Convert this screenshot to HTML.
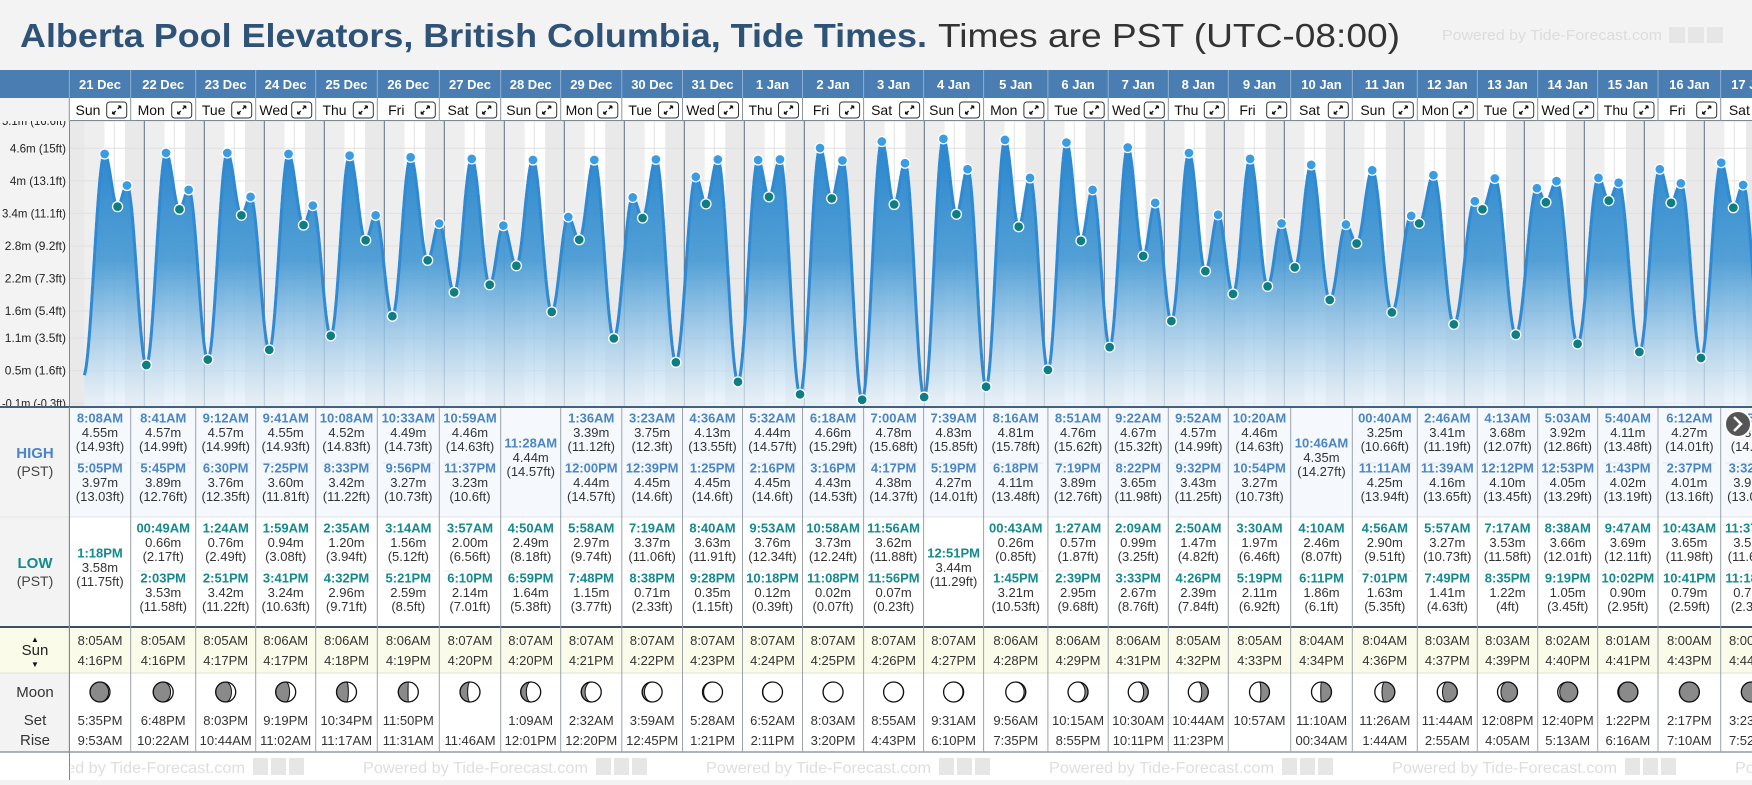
<!DOCTYPE html>
<html><head><meta charset="utf-8">
<style>
html,body{margin:0;padding:0;background:#f3f3f3;}
body{width:1752px;height:780px;overflow:hidden;font-family:"Liberation Sans",sans-serif;}
svg text{font-family:"Liberation Sans",sans-serif;}
</style></head>
<body>
<svg id="root" width="1752" height="780" viewBox="0 0 1752 780" xmlns="http://www.w3.org/2000/svg">
<defs>
<linearGradient id="fillGrad" gradientUnits="userSpaceOnUse" x1="0" y1="140" x2="0" y2="407">
<stop offset="0" stop-color="#2a86cc"/>
<stop offset="0.45" stop-color="#4a9bd4" stop-opacity="0.95"/>
<stop offset="1" stop-color="#e8f2fa" stop-opacity="0.7"/>
</linearGradient>
<clipPath id="chartClip"><rect x="70" y="121" width="1682" height="286"/></clipPath>
<clipPath id="footClip"><rect x="71" y="752" width="1681" height="28"/></clipPath>
</defs>
<g id="layer"></g>
</svg>
<script>
const days=['21 Dec','22 Dec','23 Dec','24 Dec','25 Dec','26 Dec','27 Dec','28 Dec','29 Dec','30 Dec','31 Dec','1 Jan','2 Jan','3 Jan','4 Jan','5 Jan','6 Jan','7 Jan','8 Jan','9 Jan','10 Jan','11 Jan','12 Jan','13 Jan','14 Jan','15 Jan','16 Jan','17 Jan'];
const weekdays=['Sun','Mon','Tue','Wed','Thu','Fri','Sat','Sun','Mon','Tue','Wed','Thu','Fri','Sat','Sun','Mon','Tue','Wed','Thu','Fri','Sat','Sun','Mon','Tue','Wed','Thu','Fri','Sat'];
const highTimes=[['8:08AM','5:05PM'],['8:41AM','5:45PM'],['9:12AM','6:30PM'],['9:41AM','7:25PM'],['10:08AM','8:33PM'],['10:33AM','9:56PM'],['10:59AM','11:37PM'],['11:28AM'],['1:36AM','12:00PM'],['3:23AM','12:39PM'],['4:36AM','1:25PM'],['5:32AM','2:16PM'],['6:18AM','3:16PM'],['7:00AM','4:17PM'],['7:39AM','5:19PM'],['8:16AM','6:18PM'],['8:51AM','7:19PM'],['9:22AM','8:22PM'],['9:52AM','9:32PM'],['10:20AM','10:54PM'],['10:46AM'],['00:40AM','11:11AM'],['2:46AM','11:39AM'],['4:13AM','12:12PM'],['5:03AM','12:53PM'],['5:40AM','1:43PM'],['6:12AM','2:37PM'],['6:45AM','3:32PM']];
const highM=[[4.55,3.97],[4.57,3.89],[4.57,3.76],[4.55,3.60],[4.52,3.42],[4.49,3.27],[4.46,3.23],[4.44],[3.39,4.44],[3.75,4.45],[4.13,4.45],[4.44,4.45],[4.66,4.43],[4.78,4.38],[4.83,4.27],[4.81,4.11],[4.76,3.89],[4.67,3.65],[4.57,3.43],[4.46,3.27],[4.35],[3.25,4.25],[3.41,4.16],[3.68,4.10],[3.92,4.05],[4.11,4.02],[4.27,4.01],[4.39,3.98]];
const highFt=[[14.93,13.03],[14.99,12.76],[14.99,12.35],[14.93,11.81],[14.83,11.22],[14.73,10.73],[14.63,10.6],[14.57],[11.12,14.57],[12.3,14.6],[13.55,14.6],[14.57,14.6],[15.29,14.53],[15.68,14.37],[15.85,14.01],[15.78,13.48],[15.62,12.76],[15.32,11.98],[14.99,11.25],[14.63,10.73],[14.27],[10.66,13.94],[11.19,13.65],[12.07,13.45],[12.86,13.29],[13.48,13.19],[14.01,13.16],[14.4,13.06]];
const lowTimes=[['1:18PM'],['00:49AM','2:03PM'],['1:24AM','2:51PM'],['1:59AM','3:41PM'],['2:35AM','4:32PM'],['3:14AM','5:21PM'],['3:57AM','6:10PM'],['4:50AM','6:59PM'],['5:58AM','7:48PM'],['7:19AM','8:38PM'],['8:40AM','9:28PM'],['9:53AM','10:18PM'],['10:58AM','11:08PM'],['11:56AM','11:56PM'],['12:51PM'],['00:43AM','1:45PM'],['1:27AM','2:39PM'],['2:09AM','3:33PM'],['2:50AM','4:26PM'],['3:30AM','5:19PM'],['4:10AM','6:11PM'],['4:56AM','7:01PM'],['5:57AM','7:49PM'],['7:17AM','8:35PM'],['8:38AM','9:19PM'],['9:47AM','10:02PM'],['10:43AM','10:41PM'],['11:37AM','11:18PM']];
const lowM=[[3.58],[0.66,3.53],[0.76,3.42],[0.94,3.24],[1.20,2.96],[1.56,2.59],[2.00,2.14],[2.49,1.64],[2.97,1.15],[3.37,0.71],[3.63,0.35],[3.76,0.12],[3.73,0.02],[3.62,0.07],[3.44],[0.26,3.21],[0.57,2.95],[0.99,2.67],[1.47,2.39],[1.97,2.11],[2.46,1.86],[2.90,1.63],[3.27,1.41],[3.53,1.22],[3.66,1.05],[3.69,0.90],[3.65,0.79],[3.56,0.71]];
const lowFt=[[11.75],[2.17,11.58],[2.49,11.22],[3.08,10.63],[3.94,9.71],[5.12,8.5],[6.56,7.01],[8.18,5.38],[9.74,3.77],[11.06,2.33],[11.91,1.15],[12.34,0.39],[12.24,0.07],[11.88,0.23],[11.29],[0.85,10.53],[1.87,9.68],[3.25,8.76],[4.82,7.84],[6.46,6.92],[8.07,6.1],[9.51,5.35],[10.73,4.63],[11.58,4],[12.01,3.45],[12.11,2.95],[11.98,2.59],[11.68,2.33]];
const sunrise=['8:05AM','8:05AM','8:05AM','8:06AM','8:06AM','8:06AM','8:07AM','8:07AM','8:07AM','8:07AM','8:07AM','8:07AM','8:07AM','8:07AM','8:07AM','8:06AM','8:06AM','8:06AM','8:05AM','8:05AM','8:04AM','8:04AM','8:03AM','8:03AM','8:02AM','8:01AM','8:00AM','8:00AM'];
const sunset=['4:16PM','4:16PM','4:17PM','4:17PM','4:18PM','4:19PM','4:20PM','4:20PM','4:21PM','4:22PM','4:23PM','4:24PM','4:25PM','4:26PM','4:27PM','4:28PM','4:29PM','4:31PM','4:32PM','4:33PM','4:34PM','4:36PM','4:37PM','4:39PM','4:40PM','4:41PM','4:43PM','4:44PM'];
const moonSet=['5:35PM','6:48PM','8:03PM','9:19PM','10:34PM','11:50PM','','1:09AM','2:32AM','3:59AM','5:28AM','6:52AM','8:03AM','8:55AM','9:31AM','9:56AM','10:15AM','10:30AM','10:44AM','10:57AM','11:10AM','11:26AM','11:44AM','12:08PM','12:40PM','1:22PM','2:17PM','3:23PM'];
const moonRise=['9:53AM','10:22AM','10:44AM','11:02AM','11:17AM','11:31AM','11:46AM','12:01PM','12:20PM','12:45PM','1:21PM','2:11PM','3:20PM','4:43PM','6:10PM','7:35PM','8:55PM','10:11PM','11:23PM','','00:34AM','1:44AM','2:55AM','4:05AM','5:13AM','6:16AM','7:10AM','7:52AM'];
const moonAge=[2.5,3.5,4.5,5.5,6.5,7.5,8.5,9.5,10.5,11.5,12.5,13.5,14.5,15.5,16.5,17.5,18.5,19.5,20.5,21.5,22.5,23.5,24.5,25.5,26.5,27.5,28.5,29.3];
const yTicksM=[5.1,4.6,4,3.4,2.8,2.2,1.6,1.1,0.5,-0.1];
const yTicksFt=['16.6ft','15ft','13.1ft','11.1ft','9.2ft','7.3ft','5.4ft','3.5ft','1.6ft','-0.3ft'];
const priorLow=[-0.4,0.45];
const nextHigh=[7.5,4.5];
const colEdges=[69.3,130.7,195.7,255.7,315.7,377.3,439.3,500.7,560.7,621.8,682.5,742.5,802.5,863.6,923.6,983.6,1047.9,1108.2,1168.3,1228.3,1290.7,1352.3,1417.3,1477.3,1537.7,1597.7,1658,1720.7,1782];

const NS='http://www.w3.org/2000/svg';
const layer=document.getElementById('layer');
function mk(tag,attrs,parent,txt){const e=document.createElementNS(NS,tag);for(const k in attrs)e.setAttribute(k,attrs[k]);if(txt!==undefined)e.textContent=txt;(parent||layer).appendChild(e);return e;}
function parseT(s){const m=s.match(/(\d+):(\d+)(AM|PM)/);let h=+m[1]%12;if(m[3]==='PM')h+=12;return h+(+m[2])/60;}
const xT=t=>84.3+t*2.5;
const yM=m=>154+(4.55-m)*54.25;

let g=mk('g',{});


let t=mk('text',{x:20,y:47,'font-size':33,'font-weight':'bold',fill:'#2f5377',textLength:907,lengthAdjust:'spacingAndGlyphs'},g,'Alberta Pool Elevators, British Columbia, Tide Times.');


t=mk('text',{x:938,y:47,'font-size':33,fill:'#333',textLength:462,lengthAdjust:'spacingAndGlyphs'},g,'Times are PST (UTC-08:00)');


t=mk('text',{x:1442,y:40,'font-size':15,fill:'#dcdcdc',textLength:220,lengthAdjust:'spacingAndGlyphs'},g,'Powered by Tide-Forecast.com');


mk('rect',{x:1669,y:27,width:16,height:16,fill:'#e6e6e6'},g);
mk('rect',{x:1688,y:27,width:16,height:16,fill:'#e6e6e6'},g);
mk('rect',{x:1707,y:27,width:16,height:16,fill:'#e6e6e6'},g);

let cg=mk('g',{'clip-path':'url(#chartClip)'});


mk('rect',{x:70,y:121,width:1682,height:286,fill:'#e9e9e9'},cg);
for(let d=0;d<days.length;d++){
  const sr=parseT(sunrise[d]),ss=parseT(sunset[d]);
  const r=mk('rect',{x:xT(d*24+sr),y:121,width:(ss-sr)*2.5,height:286,fill:'#ffffff'},cg);
  
  
  mk('rect',{x:xT(d*24),y:121,width:xT(d*24+sr)-xT(d*24),height:286,fill:'#eeeeee'},cg);
  mk('line',{x1:xT(d*24+12),x2:xT(d*24+12),y1:121,y2:407,stroke:'#e2e2e2','stroke-width':1},cg);
}
yTicksM.forEach(v=>{mk('line',{x1:70,x2:1752,y1:yM(v)-3,y2:yM(v)-3,stroke:'#e0e0e0','stroke-width':1},cg);});
for(let d=1;d<=days.length;d++){
  const l=mk('line',{x1:xT(d*24),x2:xT(d*24),y1:121,y2:407,stroke:'#5d6f82','stroke-width':1},cg);
  
  
}
const ext=[{t:priorLow[0],v:priorLow[1],k:'x'}];
for(let d=0;d<days.length;d++){
  highTimes[d].forEach((s,i)=>ext.push({t:d*24+parseT(s),v:highM[d][i],k:'h'}));
  lowTimes[d].forEach((s,i)=>ext.push({t:d*24+parseT(s),v:lowM[d][i],k:'l'}));
}
ext.sort((a,b)=>a.t-b.t);
const last=ext[ext.length-1];
ext.push({t:last.t+nextHigh[0],v:nextHigh[1],k:'x'});
function val(tt){for(let i=0;i<ext.length-1;i++){const a=ext[i],b=ext[i+1];if(tt>=a.t&&tt<=b.t){const f=(tt-a.t)/(b.t-a.t);return a.v+(b.v-a.v)*(1-Math.cos(Math.PI*f))/2;}}return ext[ext.length-1].v;}
let pts=[];
const tEnd=(1760-84.3)/2.5;
for(let tt=0;tt<=tEnd;tt+=0.1)pts.push([xT(tt),yM(val(tt))]);
const line='M'+pts.map(p=>p[0].toFixed(1)+','+p[1].toFixed(1)).join('L');
let area=mk('path',{d:line+'L'+pts[pts.length-1][0].toFixed(1)+',407L'+xT(0)+',407Z',fill:'url(#fillGrad)'},cg);


let lp=mk('path',{d:line,fill:'none',stroke:'#2f8ad3','stroke-width':3,'stroke-linejoin':'round'},cg);


ext.forEach(e=>{if(e.k==='x')return;
  const c=mk('circle',{cx:xT(e.t),cy:yM(e.v),r:5,fill:e.k==='h'?'#3a9de3':'#0e7d84',stroke:'#fff','stroke-width':1.3},cg);
  
  
});
mk('rect',{x:0,y:98,width:70,height:309,fill:'#f3f3f3'});
let ya=mk('g',{});


yTicksM.forEach((v,i)=>{
  const s=(v===4?'4':String(v))+'m ('+yTicksFt[i]+')';
  const tx=mk('text',{x:66,y:yM(v)+1,'font-size':12,fill:'#222','text-anchor':'end',textLength:Math.min(64,s.length*5.1),lengthAdjust:'spacingAndGlyphs'},ya,s);
  
  
});
mk('rect',{x:0,y:98,width:70,height:23,fill:'#f3f3f3'});
mk('line',{x1:69.5,x2:69.5,y1:121,y2:407,stroke:'#7d8a96','stroke-width':1});

let hg=mk('g',{});


mk('rect',{x:0,y:70,width:1752,height:28,fill:'#4a7db1'},hg);
mk('rect',{x:70,y:98,width:1682,height:23,fill:'#ffffff'},hg);
mk('line',{x1:70,x2:1752,y1:120.5,y2:120.5,stroke:'#7d8a96'},hg);
for(let d=0;d<days.length;d++){
  const x0=colEdges[d],x1=colEdges[d+1],cx=(x0+x1)/2;
  mk('line',{x1:x0,x2:x0,y1:70,y2:98,stroke:'#8fb0d0'},hg);
  mk('line',{x1:x0,x2:x0,y1:98,y2:121,stroke:'#8a96a2'},hg);
  const dt=mk('text',{x:cx,y:89,'font-size':13,'font-weight':'bold',fill:'#fff','text-anchor':'middle'},hg,days[d]);
  
  
  const wd=mk('text',{x:cx-12,y:115,'font-size':14,fill:'#111','text-anchor':'middle'},hg,weekdays[d]);
  
  
  const bx=x1-24;
  const eb=mk('g',{},hg);
  
  
  mk('rect',{x:bx,y:102,width:20,height:16,rx:3,fill:'#fff',stroke:'#333','stroke-width':1},eb);
  mk('path',{d:`M${bx+6},${114}L${bx+9},${111}M${bx+6},${114}h2.5M${bx+6},${114}v-2.5M${bx+14},${106}L${bx+11},${109}M${bx+14},${106}h-2.5M${bx+14},${106}v2.5`,stroke:'#111','stroke-width':1.3,fill:'none'},eb);
}

let tb=mk('g',{});


mk('rect',{x:0,y:407,width:70,height:345,fill:'#f3f3f3'},tb);
mk('rect',{x:70,y:407,width:1682,height:110,fill:'#f5f9fd'},tb);
mk('rect',{x:70,y:517,width:1682,height:110,fill:'#ffffff'},tb);
mk('rect',{x:0,y:627,width:1752,height:46,fill:'#fbfbea'},tb);
mk('rect',{x:70,y:673,width:1682,height:79,fill:'#ffffff'},tb);
mk('rect',{x:0,y:752,width:1752,height:28,fill:'#ffffff'},tb);
mk('rect',{x:0,y:673,width:70,height:79,fill:'#f3f3f3'},tb);
mk('line',{x1:0,x2:1752,y1:407,y2:407,stroke:'#3f6284','stroke-width':2},tb);
mk('line',{x1:0,x2:1752,y1:517,y2:517,stroke:'#e0e4e8','stroke-width':1},tb);
mk('line',{x1:0,x2:1752,y1:627,y2:627,stroke:'#3c4e60','stroke-width':2},tb);
mk('line',{x1:0,x2:1752,y1:673,y2:673,stroke:'#e2e2d6','stroke-width':1},tb);
mk('line',{x1:0,x2:1752,y1:752,y2:752,stroke:'#5a6a7a','stroke-width':1},tb);
function lbl(x,y,s,txt,fill,w,name){const e=mk('text',{x:x,y:y,'font-size':s,fill:fill,'font-weight':w,'text-anchor':'middle'},tb,txt);return e;}
lbl(35,458,15,'HIGH','#4a86c5','bold','high-label');
lbl(35,476,14,'(PST)','#444','normal','high-pst-label');
lbl(35,568,15,'LOW','#138a8f','bold','low-label');
lbl(35,586,14,'(PST)','#444','normal','low-pst-label');
lbl(35,655,15,'Sun','#222','normal','sun-label');
lbl(35,642,8,'▲','#111','normal','sunrise-arrow');
lbl(35,667,8,'▼','#111','normal','sunset-arrow');
lbl(35,697,15,'Moon','#333','normal','moon-label');
lbl(35,725,15,'Set','#333','normal','moonset-label');
lbl(35,745,15,'Rise','#333','normal','moonrise-label');
function entry(cx,yc,time,m,ft,col,name){
  lbl(cx,yc+4.5,13,time,col,'bold',name+'-time');
  lbl(cx,yc+19,13,m.toFixed(2)+'m','#333','normal',name+'-height-m');
  lbl(cx,yc+33,13,'('+ft+'ft)','#333','normal',name+'-height-ft');
}
for(let d=0;d<days.length;d++){
  const x0=colEdges[d],x1=colEdges[d+1],cx=(x0+x1)/2;
  mk('line',{x1:x0,x2:x0,y1:408,y2:752,stroke:'#9aa3ab'},tb);
  if(highTimes[d].length===2){
    entry(cx,418,highTimes[d][0],highM[d][0],highFt[d][0],'#4a86c5','high-tide');
    mk('line',{x1:x0+5,x2:x1-5,y1:463,y2:463,stroke:'#e3e8ee'},tb);
    entry(cx,468,highTimes[d][1],highM[d][1],highFt[d][1],'#4a86c5','high-tide');
  } else entry(cx,443,highTimes[d][0],highM[d][0],highFt[d][0],'#4a86c5','high-tide');
  if(lowTimes[d].length===2){
    entry(cx,528,lowTimes[d][0],lowM[d][0],lowFt[d][0],'#138a8f','low-tide');
    mk('line',{x1:x0+5,x2:x1-5,y1:571,y2:571,stroke:'#ebebeb'},tb);
    entry(cx,578,lowTimes[d][1],lowM[d][1],lowFt[d][1],'#138a8f','low-tide');
  } else entry(cx,553,lowTimes[d][0],lowM[d][0],lowFt[d][0],'#138a8f','low-tide');
  lbl(cx,645,13,sunrise[d],'#333','normal','sunrise-time');
  lbl(cx,665,13,sunset[d],'#333','normal','sunset-time');
  lbl(cx,725,13,moonSet[d],'#333','normal','moonset-time');
  lbl(cx,745,13,moonRise[d],'#333','normal','moonrise-time');
  const r=10,mx=cx,my=692;
  const mg=mk('g',{},tb);
  
  
  mk('circle',{cx:mx,cy:my,r:r,fill:'#fff'},mg);
  const th=2*Math.PI*(moonAge[d]%29.53)/29.53;
  const k=(1-Math.cos(th))/2;
  const rx=Math.abs(Math.cos(th))*r;
  let p;
  if(th<Math.PI){p=`M${mx},${my-r}A${r},${r} 0 0 0 ${mx},${my+r}A${rx},${r} 0 0 ${k<0.5?0:1} ${mx},${my-r}Z`;}
  else{p=`M${mx},${my-r}A${r},${r} 0 0 1 ${mx},${my+r}A${rx},${r} 0 0 ${k<0.5?1:0} ${mx},${my-r}Z`;}
  mk('path',{d:p,fill:'#8a8a8a',stroke:'#111','stroke-width':1},mg);
  mk('circle',{cx:mx,cy:my,r:r,fill:'none',stroke:'#111','stroke-width':1.3},mg);
}
mk('line',{x1:69.5,x2:69.5,y1:407,y2:780,stroke:'#7d8a96'},tb);
let fg=mk('g',{'clip-path':'url(#footClip)'});


for(let i=0;i<6;i++){
  const fx=20+i*343;
  const ft=mk('text',{x:fx,y:773,'font-size':16,fill:'#dedede',textLength:225,lengthAdjust:'spacingAndGlyphs'},fg,'Powered by Tide-Forecast.com');
  
  
  mk('rect',{x:fx+233,y:758,width:15,height:17,fill:'#e6e6e6'},fg);
  mk('rect',{x:fx+251,y:758,width:15,height:17,fill:'#e6e6e6'},fg);
  mk('rect',{x:fx+269,y:758,width:15,height:17,fill:'#e6e6e6'},fg);
}
let sb=mk('g',{});


mk('circle',{cx:1738,cy:424,r:13,fill:'#555',stroke:'#fff','stroke-width':2},sb);
mk('path',{d:'M1734,417L1741,424L1734,431',fill:'none',stroke:'#fff','stroke-width':2.5},sb);
</script>
</body></html>
